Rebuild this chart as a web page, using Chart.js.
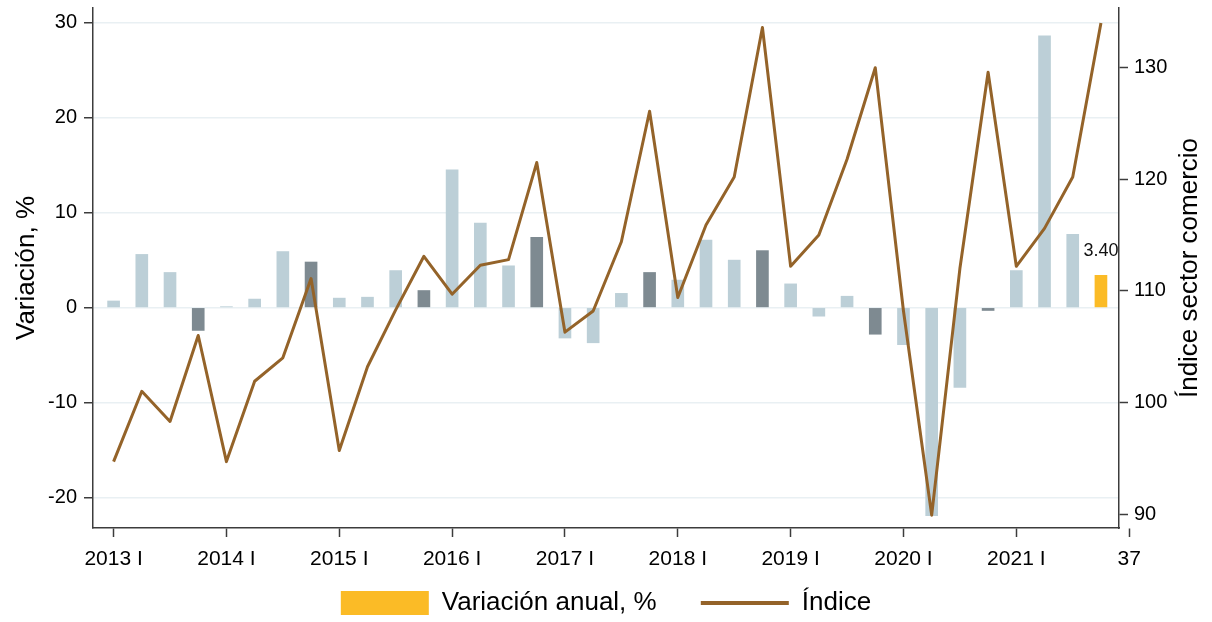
<!DOCTYPE html>
<html lang="es">
<head>
<meta charset="utf-8">
<title>Índice sector comercio</title>
<script src="https://cdn.jsdelivr.net/npm/chart.js@4.4.1/dist/chart.umd.min.js"></script>
<style>
  html, body { margin: 0; padding: 0; background: #fff; }
  #wrap { width: 1212px; height: 622px; }
</style>
</head>
<body>
<div id="wrap"><canvas id="chart"></canvas></div>
<script>
// quarters, 2013 I to 2021 IV
const quarters = [
  '2013 I', '2013 II', '2013 III', '2013 IV', '2014 I', '2014 II', '2014 III', '2014 IV',
  '2015 I', '2015 II', '2015 III', '2015 IV', '2016 I', '2016 II', '2016 III', '2016 IV',
  '2017 I', '2017 II', '2017 III', '2017 IV', '2018 I', '2018 II', '2018 III', '2018 IV',
  '2019 I', '2019 II', '2019 III', '2019 IV', '2020 I', '2020 II', '2020 III', '2020 IV',
  '2021 I', '2021 II', '2021 III', '2021 IV'
];

// annual variation, % (bars, left axis)
const variacion = [
  0.7, 5.6, 3.7, -2.4, 0.1, 0.9, 5.9, 4.8, 1.0, 1.1, 3.9, 1.8,
  14.5, 8.9, 4.4, 7.4, -3.2, -3.7, 1.5, 3.7, 2.9, 7.1, 5.0, 6.0,
  2.5, -0.9, 1.2, -2.8, -3.9, -21.9, -8.4, -0.3, 3.9, 28.6, 7.7, 3.4
];

// index, sector comercio (line, right axis)
const indice = [
  94.7, 101.0, 98.3, 106.0, 94.7, 101.9, 104.0, 111.1, 95.7, 103.2, 108.3, 113.1,
  109.7, 112.3, 112.8, 121.5, 106.3, 108.2, 114.4, 126.1, 109.4, 115.9, 120.2, 133.6,
  112.2, 115.0, 121.8, 130.0, 108.2, 89.9, 112.0, 129.6, 112.2, 115.6, 120.2, 134.0
];

// x axis ticks (quarter number) and their labels
const tickValues = [1, 5, 9, 13, 17, 21, 25, 29, 33, 37];
const tickLabels = ['2013 I', '2014 I', '2015 I', '2016 I', '2017 I', '2018 I', '2019 I', '2020 I', '2021 I', '37'];

// colours
const lightBar = '#bccfd7';
const darkBar = '#7e8a91';
const yellow = '#fbbb26';
const brown = '#946329';
const axisColor = '#3c3c3c';
const gridColor = '#e9f0f3';

const FONT = '"Liberation Sans", Arial, Helvetica, sans-serif';
Chart.defaults.font.family = FONT;
Chart.defaults.color = '#000';

// bar colour: last quarter highlighted, fourth quarters darker
const barColors = variacion.map((v, i) => {
  if (i === variacion.length - 1) return yellow;
  if (i % 4 === 3) return darkBar;
  return lightBar;
});

// value label on the last bar
const lastBarLabel = {
  id: 'lastBarLabel',
  afterDatasetsDraw(chart) {
    const i = variacion.length - 1;
    const bar = chart.getDatasetMeta(0).data[i];
    const ctx = chart.ctx;
    ctx.save();
    ctx.font = '18px ' + FONT;
    ctx.fillStyle = '#111';
    ctx.textAlign = 'center';
    ctx.textBaseline = 'middle';
    ctx.fillText(variacion[i].toFixed(2), bar.x, bar.y - 24);
    ctx.restore();
  }
};

// right axis title, read bottom to top like the left one
const rightTitle = {
  id: 'rightTitle',
  afterDraw(chart) {
    const area = chart.chartArea;
    const ctx = chart.ctx;
    ctx.save();
    ctx.translate(1190, (area.top + area.bottom) / 2);
    ctx.rotate(-Math.PI / 2);
    ctx.font = '26px ' + FONT;
    ctx.fillStyle = '#000';
    ctx.textAlign = 'center';
    ctx.textBaseline = 'middle';
    ctx.fillText('Índice sector comercio', 0, 0);
    ctx.restore();
  }
};

function fixWidth(w) {
  return function (scale) {
    scale.width = w;
    scale.paddingTop = 0;
    scale.paddingBottom = 0;
  };
}

const ctx = document.getElementById('chart').getContext('2d');
new Chart(ctx, {
  type: 'bar',
  data: {
    datasets: [
      {
        type: 'bar',
        label: 'Variación anual, %',
        data: variacion.map((v, i) => ({ x: i + 1, y: v })),
        backgroundColor: barColors,
        borderWidth: 0,
        barThickness: 12,
        yAxisID: 'y',
        order: 1
      },
      {
        type: 'line',
        label: 'Índice',
        data: indice.map((v, i) => ({ x: i + 1, y: v })),
        borderColor: brown,
        borderWidth: 3,
        borderJoinStyle: 'round',
        pointRadius: 0,
        tension: 0,
        fill: false,
        yAxisID: 'y1',
        order: 0
      }
    ]
  },
  options: {
    responsive: true,
    maintainAspectRatio: false,
    animation: false,
    events: [],
    layout: { padding: { top: 8, left: 0, right: 0, bottom: 0 } },
    scales: {
      x: {
        type: 'linear',
        min: 0.27,
        max: 36.64,
        offset: false,
        grid: { display: true, offset: false, drawOnChartArea: false, drawTicks: true, tickLength: 9, tickColor: axisColor, tickWidth: 1.5 },
        border: { display: true, color: axisColor, width: 1.5 },
        afterBuildTicks: (scale) => {
          scale.ticks = tickValues.map(v => ({ value: v }));
        },
        afterFit: (scale) => {
          scale.height = 54;
          scale.paddingLeft = 0;
          scale.paddingRight = 0;
        },
        ticks: {
          autoSkip: false,
          maxRotation: 0,
          padding: 10,
          font: { size: 21 },
          color: '#000',
          callback: (v) => {
            const k = tickValues.indexOf(v);
            return k >= 0 ? tickLabels[k] : '';
          }
        }
      },
      y: {
        position: 'left',
        min: -23.19,
        max: 31.53,
        grid: { color: gridColor, lineWidth: 1.5, tickLength: 9, tickColor: axisColor, tickWidth: 1.5 },
        border: { display: true, color: axisColor, width: 1.5 },
        ticks: {
          stepSize: 10,
          includeBounds: false,
          padding: 7,
          font: { size: 20 },
          color: '#000',
          callback: (v) => String(v)
        },
        title: {
          display: true,
          text: 'Variación, %',
          font: { size: 26 },
          color: '#000',
          padding: { top: 11, bottom: 0 }
        },
        afterFit: fixWidth(93)
      },
      y1: {
        position: 'right',
        min: 88.75,
        max: 135.35,
        grid: { drawOnChartArea: false, tickLength: 9, tickColor: axisColor, tickWidth: 1.5 },
        border: { display: true, color: axisColor, width: 1.5 },
        ticks: {
          stepSize: 10,
          includeBounds: false,
          padding: 6,
          font: { size: 20 },
          color: '#000',
          callback: (v) => String(v)
        },
        afterFit: fixWidth(93)
      }
    },
    plugins: {
      tooltip: { enabled: false },
      legend: {
        display: true,
        position: 'bottom',
        maxHeight: 40,
        labels: {
          usePointStyle: true,
          pointStyleWidth: 88,
          boxHeight: 24,
          padding: 8,
          font: { size: 26 },
          color: '#000',
          generateLabels: () => [
            {
              text: 'Variación anual, %\u00a0\u00a0\u00a0\u00a0\u00a0',
              fillStyle: yellow,
              strokeStyle: yellow,
              lineWidth: 0,
              pointStyle: 'rect',
              hidden: false,
              datasetIndex: 0
            },
            {
              text: 'Índice',
              fillStyle: brown,
              strokeStyle: brown,
              lineWidth: 4,
              pointStyle: 'line',
              hidden: false,
              datasetIndex: 1
            }
          ]
        }
      }
    }
  },
  plugins: [lastBarLabel, rightTitle]
});
</script>
</body>
</html>
